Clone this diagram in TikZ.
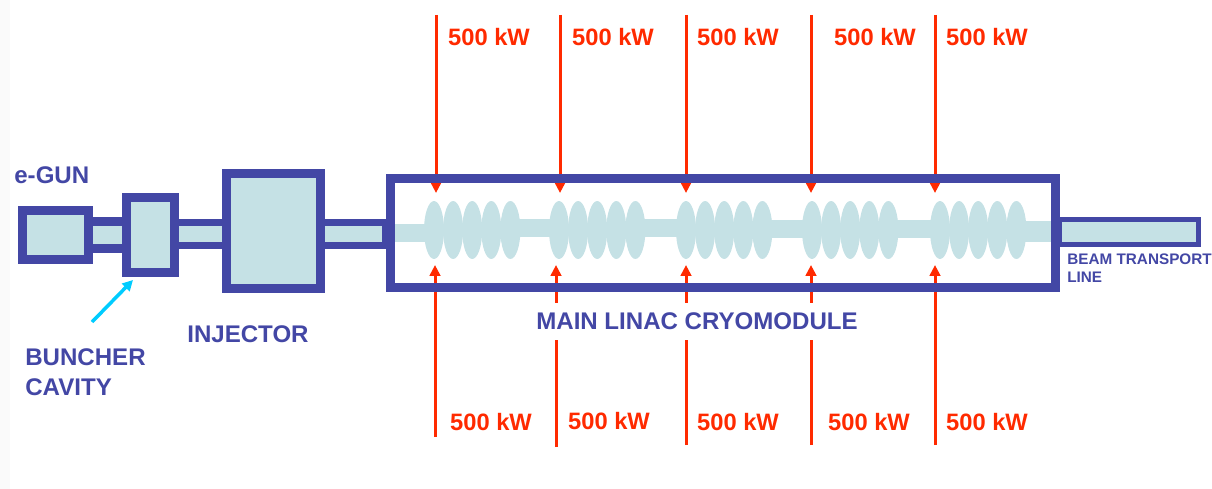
\documentclass[tikz,border=0pt]{standalone}
\usepackage{fontspec}
\setmainfont{Liberation Sans}
\usetikzlibrary{arrows.meta,shapes.geometric}
\definecolor{linacblue}{HTML}{4347A5}
\definecolor{linacfill}{HTML}{C5E1E5}
\definecolor{rfred}{HTML}{FF2A00}
\definecolor{pointcyan}{HTML}{00CCFF}
\begin{document}
\begin{tikzpicture}
		[   x=0.02cm,y=-0.02cm,
			box/.style={draw=linacblue,fill=#1,line width=5.1pt,inner sep=0pt,outer sep=0pt},
			pipe/.style={draw=linacblue,fill=linacfill,line width=4pt,inner sep=0pt,outer sep=0pt},
			beam/.style={fill=linacfill,inner sep=0pt,outer sep=0pt},
			cavity/.style={ellipse,fill=linacfill,inner sep=0pt,minimum width=0.40cm,minimum height=1.16cm},
			tag/.style={text=linacblue,font=\fontsize{13.7}{17}\selectfont\bfseries,align=left,inner sep=0pt},
			power/.style={text=rfred,font=\fontsize{13.5}{16}\selectfont\bfseries,inner sep=0pt},
		]
		\tikzset{rf arrow/.style={draw=rfred,line width=1.7pt,-{Triangle[width=6pt,length=6.2pt]}}}
		\useasboundingbox (0,0) rectangle (1212,489);
		\fill[black!2] (0,0) rectangle (10,489);
		
		\foreach \i/\x/\y in {1/436/15,2/560/15,3/686/15,4/811/15,5/935/15}
			{
				\coordinate (top-\i) at (\x,\y);
				\coordinate (feed-\i) at (\x,193);
				\path[rf arrow] (top-\i) -- (feed-\i);
			}
		\foreach \i/\x/\y in {1/435/437,2/556/447,3/686/445,4/811/445,5/935/445}
			{
				\coordinate (bot-\i) at (\x,\y);
				\coordinate (return-\i) at (\x,265);
				\path[rf arrow] (bot-\i) -- (return-\i);
			}
		
		% beam pipe inside the cryomodule
		\node[beam,minimum width=0.80cm,minimum height=0.36cm] (b-1) at (412,233) {};
		\node[beam,minimum width=0.80cm,minimum height=0.36cm] (b-2) at (535,228) {};
		\node[beam,minimum width=0.84cm,minimum height=0.36cm] (b-3) at (661,228) {};
		\node[beam,minimum width=0.86cm,minimum height=0.36cm] (b-4) at (786,229) {};
		\node[beam,minimum width=0.84cm,minimum height=0.36cm] (b-5) at (914,229) {};
		\node[beam,minimum width=0.70cm,minimum height=0.42cm] (b-6) at (1036,231.5) {};
		
		\foreach \g/\x in {1/434,2/559,3/686,4/812,5/940}
			{
				\foreach \c in {0,...,4}
				{
					\node[cavity] (cav-\g-\c) at ({\x+19.1*\c},230) {};
				}
			}
		
		\node[pipe,line width=5.1pt,minimum width=0.78cm,minimum height=0.54cm] (p-1) at (107.5,235) {};
		\node[pipe,minimum width=1.14cm,minimum height=0.46cm] (p-2) at (200,234) {};
		\node[pipe,minimum width=1.32cm,minimum height=0.46cm] (p-3) at (353,234) {};
		
		\node[box=linacfill,minimum width=1.32cm,minimum height=0.98cm] (gun) at (55.5,235) {};
		\node[box=linacfill,minimum width=0.96cm,minimum height=1.50cm] (buncher) at (150.5,235) {};
		\node[box=linacfill,minimum width=1.88cm,minimum height=2.30cm] (injector) at (273.5,231) {};
		\node[box=none,minimum width=13.30cm,minimum height=2.18cm] (cryo) at (723,233) {};
		\node[pipe,line width=3.1pt,fill=linacfill,minimum width=2.79cm,minimum height=0.50cm] (line) at (1129,232) {};
		
		\node[tag,anchor=west] (l-gun) at (14,175) {e-GUN};
		\node[tag,anchor=west] (l-buncher) at (25,372) {BUNCHER\\CAVITY};
		\node[tag,anchor=west] (l-inj) at (187,334) {INJECTOR};
		\node[tag,fill=white,inner xsep=1pt,minimum height=0.74cm] (l-cryo) at (697,321.5) {MAIN LINAC CRYOMODULE};
		\node[tag,anchor=west,font=\fontsize{8.7}{10.4}\selectfont\bfseries] (l-line) at (1067,268) {BEAM TRANSPORT\\LINE};
		
		\coordinate (c-from) at (92,322);
		\coordinate (c-to) at (133,280);
		\draw[pointcyan,line width=2pt,-{Triangle[width=6pt,length=6pt]}] (c-from) -- (c-to);
		
		\foreach \x/\y in {489/37,613/37,738/37,875/37,987/37,491/422,609/421,738/422,869/422,987/422}
			{
				\node[power] at (\x,\y) {500 kW};
			}
\end{tikzpicture}
\end{document}
